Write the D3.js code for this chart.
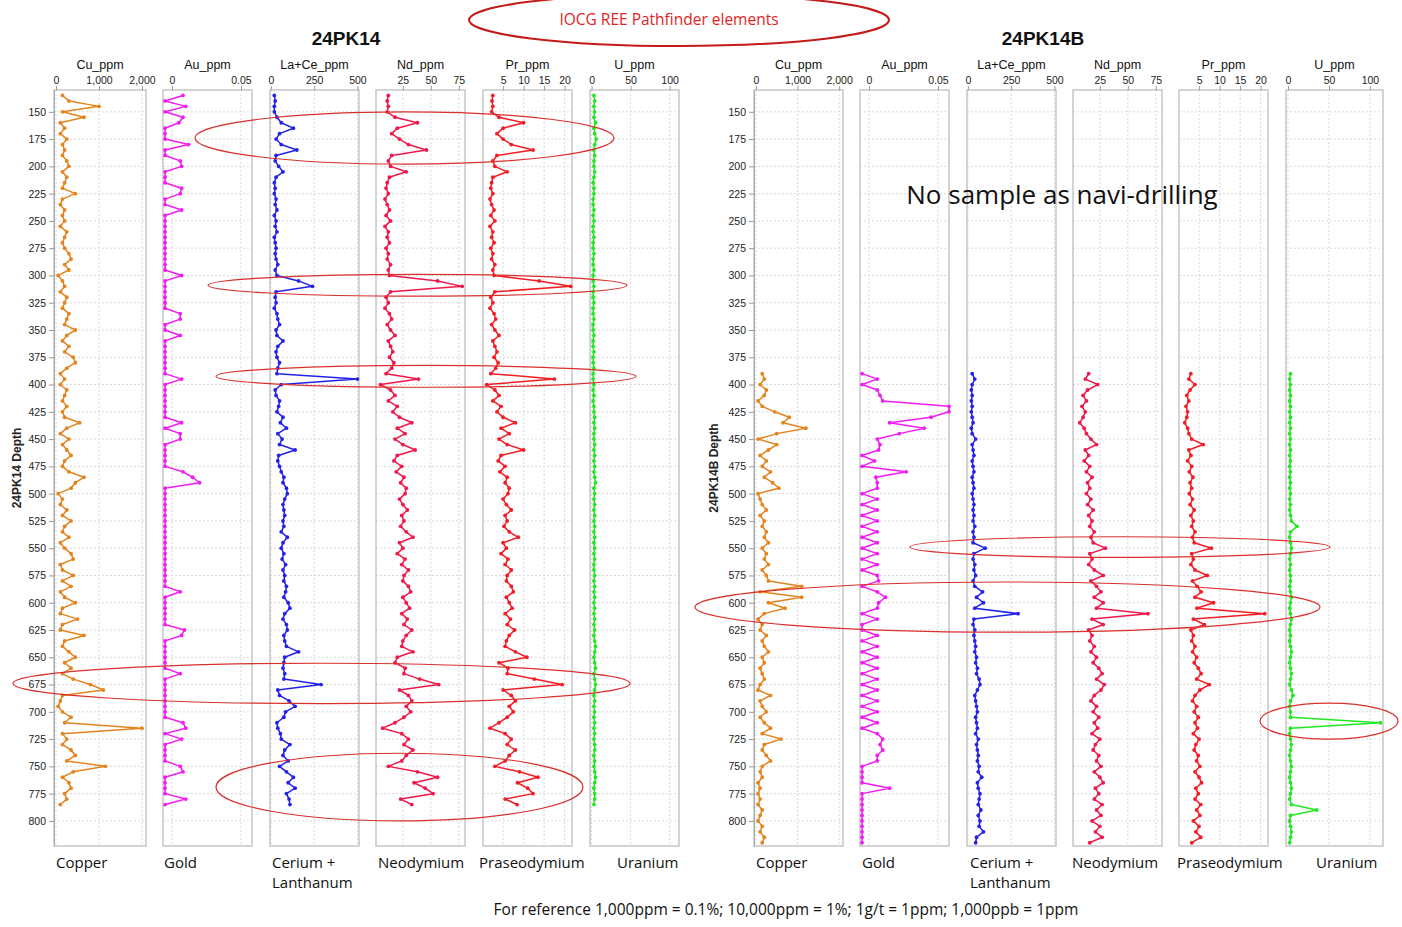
<!DOCTYPE html>
<html>
<head>
<meta charset="utf-8">
<script src="https://cdn.jsdelivr.net/npm/d3@7"></script>
<style>
  body { margin: 0; background: #fff; }
  text { font-family: "Liberation Sans", Arial, sans-serif; }
  .note { font-family: "Open Sans", "Noto Sans", sans-serif; }
</style>
</head>
<body>
<svg id="chart" width="1402" height="927"></svg>
<script>
// ---- hole 24PK14 (5 m composites) ----
const depthA = [
  135,140,145,150,155,160,165,170,175,180,
  185,190,195,200,205,210,215,220,225,230,
  235,240,245,250,255,260,265,270,275,280,
  285,290,295,300,305,310,315,320,325,330,
  335,340,345,350,355,360,365,370,375,380,
  385,390,395,400,405,410,415,420,425,430,
  435,440,445,450,455,460,465,470,475,480,
  485,490,495,500,505,510,515,520,525,530,
  535,540,545,550,555,560,565,570,575,580,
  585,590,595,600,605,610,615,620,625,630,
  635,640,645,650,655,660,665,670,675,680,
  685,690,695,700,705,710,715,720,725,730,
  735,740,745,750,755,760,765,770,775,780,
  785]
const cuA = [
  150,300,1000,150,650,100,200,100,250,150,
  200,150,250,300,150,250,200,150,450,150,
  100,200,150,200,100,250,200,150,200,300,
  350,200,300,50,150,200,100,250,200,150,
  300,250,200,450,250,150,300,200,400,450,
  250,100,200,100,250,200,150,250,150,200,
  550,250,100,300,150,250,350,200,150,300,
  650,450,350,50,150,100,250,150,350,200,
  150,300,100,200,350,400,100,150,400,150,
  350,100,200,450,150,100,500,150,100,650,
  200,150,300,450,200,350,150,400,800,1100,
  150,100,50,150,350,200,2000,150,250,150,
  350,450,250,1150,400,150,300,350,200,250,
  100]
const auA = [
  0.008,-0.005,0.01,-0.005,0.008,0.005,-0.005,-0.005,-0.005,0.012,
  -0.005,-0.005,0.006,0.007,-0.005,-0.005,-0.005,0.007,0.006,-0.005,
  -0.005,0.007,-0.005,-0.005,-0.005,-0.005,-0.005,-0.005,-0.005,-0.005,
  -0.005,-0.005,-0.005,0.007,-0.005,-0.005,-0.005,-0.005,-0.005,-0.005,
  0.006,0.006,-0.005,-0.005,0.006,-0.005,-0.005,-0.005,-0.005,-0.005,
  -0.005,-0.005,0.007,-0.005,-0.005,-0.005,-0.005,-0.005,-0.005,-0.005,
  0.007,-0.005,0.006,0.006,-0.005,-0.005,-0.005,-0.005,-0.005,0.008,
  0.015,0.02,-0.005,-0.005,-0.005,-0.005,-0.005,-0.005,-0.005,-0.005,
  -0.005,-0.005,-0.005,-0.005,-0.005,-0.005,-0.005,-0.005,-0.005,-0.005,
  -0.005,0.006,-0.005,-0.005,-0.005,-0.005,-0.005,-0.005,0.009,0.007,
  -0.005,-0.005,-0.005,-0.005,-0.005,-0.005,0.006,-0.005,-0.005,-0.005,
  -0.005,-0.005,-0.005,-0.005,-0.005,0.008,0.01,-0.005,0.007,-0.005,
  -0.005,-0.005,-0.005,0.006,0.008,-0.005,-0.005,-0.005,-0.005,0.01,
  -0.005]
const laceA = [
  20,25,20,20,35,60,130,50,30,60,
  150,30,25,45,70,30,20,25,20,30,
  25,35,20,30,25,35,20,25,30,25,
  30,40,25,35,160,240,30,25,30,20,
  35,40,50,30,35,70,40,30,35,50,
  40,35,500,60,25,30,50,45,35,70,
  55,90,40,65,50,140,45,40,50,60,
  75,70,90,95,80,70,75,80,70,75,
  60,95,70,60,75,65,85,70,80,75,
  90,85,75,100,110,80,70,90,95,75,
  80,90,160,80,75,70,80,75,290,40,
  50,105,140,85,75,35,40,55,60,110,
  80,70,100,50,90,130,100,140,90,105,
  110]
const ndA = [
  12,11,12,11,18,38,20,15,22,30,
  46,15,12,14,28,13,11,10,12,9,
  11,13,10,14,9,12,11,13,10,12,
  11,14,12,13,56,78,14,10,12,9,
  13,15,11,14,18,12,14,16,13,17,
  15,10,39,5,14,18,12,20,16,22,
  33,20,27,18,25,36,20,17,24,19,
  26,23,28,27,22,25,29,24,26,23,
  28,34,22,25,20,27,24,30,26,25,
  30,32,25,28,31,24,29,26,33,28,
  25,24,34,20,18,27,26,40,57,22,
  30,33,28,32,26,18,7,24,30,26,
  34,28,24,12,38,56,35,45,52,23,
  33]
const prA = [
  2.5,2.3,2.5,2.2,4,10,5,3.5,5,7,
  12.3,3.5,2.5,3,6,2.5,2.2,2,2.5,1.8,
  2.2,2.8,2,3,1.8,2.5,2.2,2.8,2,2.5,
  2.2,3,2.5,2.8,13.8,21.5,3,2,2.5,1.8,
  2.8,3.2,2.2,3,4,2.5,3,3.5,2.8,3.8,
  3.2,2,17.5,1,3,4,2.5,4.5,3.5,5,
  8,4.5,6.5,4,6,10,4.5,3.8,5.5,4.2,
  6,5.5,6.5,6.2,5,5.8,7,5.5,6,5.2,
  6.5,8.7,5,5.8,4.5,6.2,5.5,7,6,5.8,
  7,7.5,5.8,6.5,7.2,5.5,6.8,6,7.8,6.5,
  5.8,5.5,8,10.8,4,6.2,6,12.6,19.4,5,
  7,8,6.5,7.5,6,4,1.8,5.5,7,6,
  8,6.5,5.5,3,9,13.5,8.5,11,12.3,5.5,
  8.4]
const uA = [
  3,4,3,4,3,5,3,4,6,4,
  3,4,3,3,4,3,2,3,3,2,
  2,3,2,3,2,2,3,2,2,3,
  2,2,3,2,2,3,2,2,3,2,
  2,3,2,2,3,2,2,3,2,2,
  3,2,2,3,2,3,2,3,3,4,
  3,4,3,3,4,3,4,3,4,3,
  4,5,3,4,3,4,3,4,3,4,
  3,4,3,4,3,4,3,3,4,3,
  4,3,4,3,4,3,4,3,4,3,
  4,5,4,3,4,5,3,4,5,4,
  3,4,3,4,3,4,3,4,3,4,
  4,3,4,3,4,5,4,3,4,4,
  3]

// ---- hole 24PK14B (no samples above ~390 m) ----
const depthB = [
  390,395,400,405,410,415,420,425,430,435,
  440,445,450,455,460,465,470,475,480,485,
  490,495,500,505,510,515,520,525,530,535,
  540,545,550,555,560,565,570,575,580,585,
  590,595,600,605,610,615,620,625,630,635,
  640,645,650,655,660,665,670,675,680,685,
  690,695,700,705,710,715,720,725,730,735,
  740,745,750,755,760,765,770,775,780,785,
  790,795,800,805,810,815,820]
const cuB = [
  150,200,100,250,200,50,150,450,800,650,
  1200,500,50,500,300,100,250,150,350,200,
  400,550,50,100,150,250,100,200,150,250,
  200,300,150,250,200,300,150,250,300,1100,
  100,1100,300,700,200,50,150,100,250,150,
  200,300,150,200,100,150,200,100,50,350,
  100,150,250,100,200,350,150,600,200,150,
  250,350,150,100,150,50,100,50,100,50,
  150,100,50,150,100,200,150]
const auB = [
  -0.005,0.006,-0.005,0.006,0.008,0.01,0.058,0.058,0.045,0.015,
  0.04,0.022,0.006,0.008,0.007,-0.005,0.004,-0.005,0.027,0.005,
  0.006,0.006,-0.005,0.006,-0.005,0.006,-0.005,0.006,-0.005,0.006,
  -0.005,0.006,-0.005,0.006,-0.005,0.006,-0.005,0.006,0.007,-0.005,
  0.006,0.012,0.007,0.006,-0.005,0.006,-0.005,-0.005,0.006,-0.005,
  0.006,-0.005,0.006,-0.005,0.006,-0.005,0.006,-0.005,0.006,-0.005,
  0.006,-0.005,0.006,-0.005,0.006,-0.005,0.006,0.01,0.008,0.01,
  0.006,0.006,-0.005,-0.005,-0.005,-0.005,0.015,-0.005,-0.005,-0.005,
  -0.005,-0.005,-0.005,-0.005,-0.005,-0.005,-0.005]
const laceB = [
  25,40,25,20,25,20,25,20,25,30,
  20,25,45,25,30,35,25,30,35,25,
  30,35,25,30,35,30,35,30,40,30,
  35,30,100,35,30,40,35,45,30,40,
  85,50,90,40,290,35,30,40,35,40,
  45,40,50,45,55,50,65,70,55,40,
  45,50,55,45,50,55,45,60,50,55,
  60,55,65,60,80,55,60,70,65,60,
  75,60,70,65,90,50,45]
const ndB = [
  15,12,23,14,10,13,9,12,10,7,
  11,13,17,22,12,15,11,16,13,18,
  14,16,13,17,14,19,15,18,16,20,
  17,19,30,16,18,15,20,28,17,22,
  26,20,28,22,68,18,28,15,18,16,
  20,17,22,19,24,27,22,29,26,20,
  17,22,19,24,20,23,18,25,21,19,
  24,22,26,20,25,28,21,24,20,27,
  22,26,18,25,21,27,16]
const prB = [
  3,2.5,4,2.8,2,2.5,1.8,2.2,2,1.5,
  2.2,2.5,3.2,6,2.5,3,2.2,3.2,2.6,3.5,
  2.8,3.2,2.6,3.4,2.8,3.8,3,3.6,3.2,4,
  3.4,3.8,8,3.2,3.6,3,4,7,3.4,4.5,
  5.5,4,8.5,4.5,21,3.6,6.3,3,3.6,3.2,
  4,3.4,4.4,3.8,4.8,5.5,4.4,7.5,5.2,4,
  3.4,4.4,3.8,4.8,4,4.6,3.6,5,4.2,3.8,
  4.8,4.4,5.2,4,5,5.6,4.2,4.8,4,5.4,
  4.4,5.2,3.6,5,4.2,5.4,3.2]
const uB = [
  3,2,3,2,3,2,3,2,3,2,
  3,2,3,2,3,2,3,2,3,2,
  3,2,3,2,3,2,3,4,11,3,
  2,3,4,3,2,3,2,3,3,2,
  3,4,3,2,3,4,3,2,3,2,
  3,4,3,2,3,4,3,2,4,6,
  3,2,3,3,113,3,2,3,4,3,
  2,3,4,3,2,3,4,3,2,4,
  35,3,2,3,4,3,2]

// ---- axes / labels ----
const trackTitles = ["Cu_ppm", "Au_ppm", "La+Ce_ppm", "Nd_ppm", "Pr_ppm", "U_ppm"]
const trackNames = [["Copper"], ["Gold"], ["Cerium +", "Lanthanum"], ["Neodymium"], ["Praseodymium"], ["Uranium"]]
const trackTicks = [[0, 1000, 2000], [0, 0.05], [0, 250, 500], [25, 50, 75], [5, 10, 15, 20], [0, 50, 100]]
const depthTicks = [150,175,200,225,250,275,300,325,350,375,400,425,450,475,500,525,550,575,600,625,650,675,700,725,750,775,800]
const colors = ["#e3841f", "#f21cf2", "#2222e8", "#f0184a", "#f41c24", "#22e822"]

const WIDTH = 1402
const HEIGHT = 927
const TOP = 90
const BOTTOM = 846
const depthDomain = [130, 823]

const svg = d3.select("#chart")
svg.append("rect").attr("width", WIDTH).attr("height", HEIGHT).attr("fill", "#fff")

function drawHole(h) {
	const y = d3.scaleLinear().domain(depthDomain).range([TOP, BOTTOM])
	const g = svg.append("g")

	g.append("text")
		.attr("x", h.titleX).attr("y", 45)
		.attr("text-anchor", "middle")
		.attr("font-weight", "bold").attr("font-size", 19)
		.attr("fill", "#111")
		.text(h.title)

	h.series.forEach(function(vals, i) {
		const x0 = h.boxes[i][0], x1 = h.boxes[i][1]
		const x = d3.scaleLinear().domain(h.domains[i]).range([x0, x1])
		const t = g.append("g")

		// grid
		t.selectAll(".hg").data(depthTicks).enter().append("line")
			.attr("x1", x0).attr("x2", x1)
			.attr("y1", d => y(d)).attr("y2", d => y(d))
			.attr("stroke", "#d9d9d9").attr("stroke-dasharray", "2,2")
		t.selectAll(".vg").data(trackTicks[i]).enter().append("line")
			.attr("x1", d => x(d)).attr("x2", d => x(d))
			.attr("y1", TOP).attr("y2", BOTTOM)
			.attr("stroke", "#d9d9d9").attr("stroke-dasharray", "2,2")

		t.append("rect")
			.attr("x", x0).attr("y", TOP)
			.attr("width", x1 - x0).attr("height", BOTTOM - TOP)
			.attr("fill", "none").attr("stroke", "#c6c6c6").attr("stroke-width", 1.5)

		const xAxis = d3.axisTop(x).tickValues(trackTicks[i]).tickSize(4).tickPadding(2)
			.tickFormat(i === 0 ? d3.format(",") : d3.format(""))
		const ax = t.append("g").attr("transform", "translate(0," + TOP + ")").call(xAxis)
		ax.select(".domain").remove()
		ax.selectAll("line").attr("stroke", "#999")
		ax.selectAll("text").attr("font-size", 10.5).attr("fill", "#222")
			.attr("font-family", "'Liberation Sans', Arial, sans-serif")

		t.append("text")
			.attr("x", (x0 + x1) / 2).attr("y", 69)
			.attr("text-anchor", "middle").attr("font-size", 12.5).attr("fill", "#111")
			.text(trackTitles[i])

		// data
		if (vals) {
			const pts = h.depths.map((d, k) => ({ depth: d, v: vals[k] }))
			const lineGen = d3.line().x(d => x(d.v)).y(d => y(d.depth))
			t.append("path")
				.attr("d", lineGen(pts))
				.attr("fill", "none").attr("stroke", colors[i])
				.attr("stroke-width", 1.5).attr("stroke-linejoin", "round")
			t.selectAll(".pt").data(pts).enter().append("circle")
				.attr("cx", d => x(d.v)).attr("cy", d => y(d.depth)).attr("r", 1.9)
				.attr("fill", colors[i])
		}

		// element names below
		trackNames[i].forEach(function(line, j) {
			g.append("text").attr("class", "note")
				.attr("x", x0 + h.nameOffsets[i]).attr("y", 868 + j * 20)
				.attr("font-size", 15).attr("fill", "#111")
				.text(line)
		})
	})

	// depth axis
	const yAxis = d3.axisLeft(y).tickValues(depthTicks).tickSize(5).tickSizeOuter(0).tickPadding(3)
	const ay = g.append("g").attr("transform", "translate(" + h.boxes[0][0] + ",0)").call(yAxis)
	ay.select(".domain").attr("stroke", "#aaa")
	ay.selectAll("line").attr("stroke", "#999")
	ay.selectAll("text").attr("font-size", 10.5).attr("fill", "#222")
		.attr("font-family", "'Liberation Sans', Arial, sans-serif")

	g.append("text")
		.attr("transform", "translate(" + h.depthLabelX + "," + 468 + ") rotate(-90)")
		.attr("text-anchor", "middle").attr("font-weight", "bold").attr("font-size", 12)
		.attr("fill", "#222")
		.text(h.title + " Depth")
}

drawHole({
	title: "24PK14", titleX: 346, depthLabelX: 21,
	depths: depthA,
	series: [cuA, auA, laceA, ndA, prA, uA],
	boxes: [[54, 146], [163, 252], [270, 359], [376, 465], [483, 572], [590, 679]],
	domains: [[-47, 2093], [-0.0065, 0.058], [-5, 509], [1, 80.5], [0.1, 21.8], [-2, 112]],
	nameOffsets: [2, 1, 2, 2, -4, 27]
})

drawHole({
	title: "24PK14B", titleX: 1043, depthLabelX: 718,
	depths: depthB,
	series: [cuB, auB, laceB, ndB, prB, uB],
	boxes: [[754, 843], [860, 949], [967, 1056], [1073, 1162], [1179, 1268], [1286, 1383]],
	domains: [[-47, 2093], [-0.0065, 0.058], [-5, 509], [1, 80.5], [0.1, 21.8], [-2.5, 116]],
	nameOffsets: [2, 2, 3, -1, -2, 30]
})

// ---- annotations ----
const y = d3.scaleLinear().domain(depthDomain).range([TOP, BOTTOM])
const halos = [
	{ x0: 195, x1: 614, depth: 174, half: 24 },
	{ x0: 208, x1: 627, depth: 309, half: 10 },
	{ x0: 216, x1: 636, depth: 392.5, half: 10 },
	{ x0: 13, x1: 630, depth: 674, half: 18.5 },
	{ x0: 216, x1: 583, depth: 769, half: 31 },
	{ x0: 910, x1: 1330, depth: 549, half: 9.5 },
	{ x0: 695, x1: 1320, depth: 604, half: 23 },
	{ x0: 1260, x1: 1398, depth: 708.5, half: 16.5 }
]
svg.selectAll(".halo").data(halos).enter().append("ellipse")
	.attr("cx", d => (d.x0 + d.x1) / 2)
	.attr("cy", d => y(d.depth))
	.attr("rx", d => (d.x1 - d.x0) / 2)
	.attr("ry", d => y(d.depth + d.half) - y(d.depth))
	.attr("fill", "none").attr("stroke", "#d9302c").attr("stroke-width", 1.2)

svg.append("ellipse")
	.attr("cx", 679).attr("cy", 20).attr("rx", 210).attr("ry", 26)
	.attr("fill", "none").attr("stroke", "#c41a1a").attr("stroke-width", 2)
svg.append("text").attr("class", "note")
	.attr("x", 669).attr("y", 25).attr("text-anchor", "middle")
	.attr("font-size", 15.5).attr("fill", "#e2231e")
	.text("IOCG REE Pathfinder elements")

svg.append("text").attr("class", "note")
	.attr("x", 1062).attr("y", 204).attr("text-anchor", "middle")
	.attr("font-size", 26).attr("fill", "#111")
	.text("No sample as navi-drilling")

svg.append("text").attr("class", "note")
	.attr("x", 786).attr("y", 915).attr("text-anchor", "middle")
	.attr("font-size", 15.5).attr("fill", "#111")
	.text("For reference 1,000ppm = 0.1%; 10,000ppm = 1%; 1g/t = 1ppm; 1,000ppb = 1ppm")
</script>
</body>
</html>
